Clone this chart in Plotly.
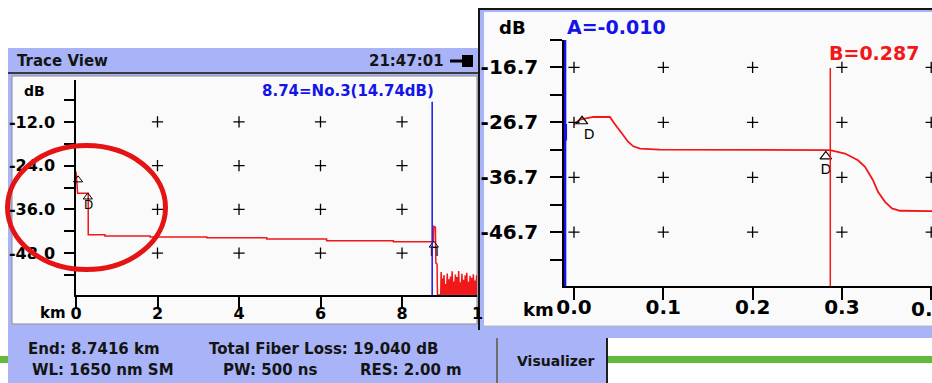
import plotly.graph_objects as go

W, H = 932, 383

# ---- Overview trace (Trace View), distance in km, level in dB ----
overview_km = [0.0, 0.01, 0.03, 0.04, 0.30, 0.30, 0.71, 0.71, 1.82, 1.82, 3.21, 3.21,
               4.68, 4.68, 6.15, 6.15, 7.79, 7.79, 8.77, 8.78, 8.82, 8.83, 8.86, 8.87, 8.93]
overview_db = [-25.6, -27.0, -30.5, -31.6, -31.6, -43.0, -43.0, -43.3, -43.3, -43.6, -43.6, -43.8,
               -43.8, -44.1, -44.1, -44.6, -44.6, -44.9, -44.9, -40.7, -40.9, -50.7, -51.0, -59.5, -59.5]

# noise floor after the fiber end
noise_km = [8.95, 8.96, 8.98, 8.99, 9.01, 9.03, 9.05, 9.07, 9.09, 9.11, 9.13, 9.15, 9.17, 9.19,
            9.21, 9.23, 9.25, 9.27, 9.29, 9.31, 9.33, 9.35, 9.37, 9.39, 9.41, 9.43, 9.45, 9.47,
            9.49, 9.51, 9.53, 9.55, 9.57, 9.59, 9.61, 9.63, 9.65, 9.67, 9.69, 9.71, 9.73, 9.75,
            9.77, 9.79, 9.81, 9.83, 9.84]
noise_db = [-59.5, -53.2, -59.5, -55.0, -59.5, -54.0, -59.5, -56.5, -59.5, -53.6, -59.5, -55.2,
            -59.5, -54.4, -59.5, -53.0, -59.5, -55.8, -59.5, -53.9, -59.5, -54.6, -59.5, -52.9,
            -59.5, -56.0, -59.5, -53.7, -59.5, -55.3, -59.5, -54.1, -59.5, -53.4, -59.5, -55.9,
            -59.5, -54.2, -59.5, -54.8, -59.5, -53.8, -59.5, -55.5, -59.5, -54.1, -59.5]

# ---- Zoomed trace (first 400 m) ----
zoom_km = [0.0, 0.0067, 0.0216, 0.0403, 0.044, 0.0496, 0.0552, 0.0608, 0.0664, 0.0739, 0.0963,
           0.2867, 0.3035, 0.318, 0.3259, 0.3348, 0.3404, 0.3483, 0.3561, 0.3651, 0.4009]
zoom_db = [-27.1, -26.2, -25.72, -25.72, -26.64, -27.84, -29.06, -30.27, -31.06, -31.47, -31.65,
           -31.75, -32.38, -33.6, -34.81, -37.23, -39.35, -41.17, -42.36, -42.8, -42.85]

# axis ticks
ov_xticks = [0, 2, 4, 6, 8]
ov_yticks = [-12.0, -24.0, -36.0, -48.0]
ov_yminor = [-6.0, -18.0, -30.0, -42.0, -54.0]
zm_xticks = [0.0, 0.1, 0.2, 0.3, 0.4]
zm_yticks = [-16.7, -26.7, -36.7, -46.7]
zm_yminor = [-11.7, -21.7, -31.7, -41.7, -51.7]

# events / cursors
ov_events_km = [0.05, 0.29, 8.78]
ov_events_db = [-27.9, -32.6, -45.8]
ov_event_glyph_km = [0.31, 8.79]
ov_event_glyph_db = [-35.1, -48.0]
ov_event_glyph = ["D", "Π"]
ov_launch = (-0.17, -44.7)
ov_cursor_km = 8.74

zm_events_km = [0.009, 0.282]
zm_events_db = [-26.5, -32.9]
zm_event_glyph_km = [0.017, 0.282]
zm_event_glyph_db = [-29.1, -35.4]
zm_launch = (-0.020, -31.65)
cursor_a = -0.010
cursor_b = 0.287

LAV = "#A9B4F8"
PANEL = "#FAFAFA"
RED = "#F01818"
BLUE = "#1414E8"
FONT = "DejaVu Sans"


def px(x):
    return x / W


def py(y):
    return 1 - y / H


def bold(size, color="black"):
    return dict(family=FONT, size=size, color=color, weight="bold")


fig = go.Figure()

# overview trace
fig.add_trace(go.Scatter(x=overview_km + noise_km, y=overview_db + noise_db, mode="lines",
                         line=dict(color=RED, width=1.5), xaxis="x", yaxis="y"))
# grid crosses
fig.add_trace(go.Scatter(x=[xv for xv in ov_xticks[1:] for _ in ov_yticks],
                         y=[yv for _ in ov_xticks[1:] for yv in ov_yticks],
                         mode="markers", xaxis="x", yaxis="y",
                         marker=dict(symbol="cross-thin", size=8,
                                     line=dict(color="black", width=1.3))))
# event markers
fig.add_trace(go.Scatter(x=ov_events_km, y=ov_events_db, mode="markers", xaxis="x", yaxis="y",
                         cliponaxis=False,
                         marker=dict(symbol="triangle-up-open", size=8, color="black",
                                     line=dict(color="black", width=1))))
fig.add_trace(go.Scatter(x=ov_event_glyph_km, y=ov_event_glyph_db, mode="text",
                         text=ov_event_glyph, xaxis="x", yaxis="y", cliponaxis=False,
                         textfont=dict(family=FONT, size=12, color="black")))
fig.add_trace(go.Scatter(x=[ov_launch[0]], y=[ov_launch[1]], mode="markers",
                         xaxis="x", yaxis="y", cliponaxis=False,
                         marker=dict(symbol="triangle-right-open", size=9,
                                     line=dict(color=RED, width=1.2))))

# zoom trace
fig.add_trace(go.Scatter(x=zoom_km, y=zoom_db, mode="lines",
                         line=dict(color=RED, width=1.8), xaxis="x2", yaxis="y2"))
fig.add_trace(go.Scatter(x=[xv for xv in zm_xticks for _ in zm_yticks],
                         y=[yv for _ in zm_xticks for yv in zm_yticks],
                         mode="markers", xaxis="x2", yaxis="y2", cliponaxis=False,
                         marker=dict(symbol="cross-thin", size=8,
                                     line=dict(color="black", width=1.3))))
fig.add_trace(go.Scatter(x=zm_events_km, y=zm_events_db, mode="markers", xaxis="x2", yaxis="y2",
                         cliponaxis=False,
                         marker=dict(symbol="triangle-up-open", size=10, color="black",
                                     line=dict(color="black", width=1.2))))
fig.add_trace(go.Scatter(x=zm_event_glyph_km, y=zm_event_glyph_db, mode="text",
                         text=["D", "D"], xaxis="x2", yaxis="y2", cliponaxis=False,
                         textfont=dict(family=FONT, size=14, color="black")))
fig.add_trace(go.Scatter(x=[zm_launch[0]], y=[zm_launch[1]], mode="markers",
                         xaxis="x2", yaxis="y2", cliponaxis=False,
                         marker=dict(symbol="triangle-right-open", size=10,
                                     line=dict(color=RED, width=1.2))))

shapes = []


def rect(x0, y0, x1, y1, fill, line_color=None, lw=0, layer="below"):
    shapes.append(dict(type="rect", xref="paper", yref="paper",
                       x0=px(x0), x1=px(x1), y0=py(y1), y1=py(y0),
                       fillcolor=fill, layer=layer,
                       line=dict(color=line_color or fill, width=lw)))


def seg(x0, y0, x1, y1, color, lw, layer="below"):
    shapes.append(dict(type="line", xref="paper", yref="paper",
                       x0=px(x0), x1=px(x1), y0=py(y0), y1=py(y1), layer=layer,
                       line=dict(color=color, width=lw)))


# green strip behind the status bar
rect(0, 356, W, 363, "#62BA3C")
# left window: title bar + frame
rect(8, 48, 478, 72, LAV)
seg(8, 73, 478, 73, "#3A3A3A", 2)
rect(8, 74, 478, 332, LAV)
rect(12, 76, 477, 324, PANEL, "#8C8C8C", 1)
# status bar
rect(8, 330, 608, H, LAV)
seg(497, 336, 497, H, "#6E6E6E", 2)
seg(607, 338, 607, H, "#1E1E1E", 2)
# plug icon
seg(450, 61, 463, 61, "black", 3)
rect(462, 55, 473, 67, "black")
# right window
rect(478, 8, W, 338, LAV)
rect(484, 12, W, 326, PANEL)
seg(484, 326, W, 326, "#B8B8B8", 1)
seg(478, 9, W, 9, "#151515", 2)
seg(479, 8, 479, 330, "#151515", 2)

# cursors
shapes.append(dict(type="line", xref="x", yref="y", x0=ov_cursor_km, x1=ov_cursor_km,
                   y0=-6.5, y1=-59.5, line=dict(color=BLUE, width=1.5)))
shapes.append(dict(type="line", xref="x2", yref="y2", x0=cursor_a, x1=cursor_a,
                   y0=-11.7, y1=-56.5, line=dict(color=BLUE, width=2.5)))
shapes.append(dict(type="line", xref="x2", yref="y2", x0=cursor_a, x1=cursor_a,
                   y0=-27.0, y1=-30.0, line=dict(color=BLUE, width=4)))
shapes.append(dict(type="line", xref="x2", yref="y2", x0=cursor_b, x1=cursor_b,
                   y0=-16.8, y1=-56.5, line=dict(color=RED, width=1.5)))

# highlight ring around the launch section
shapes.append(dict(type="circle", xref="paper", yref="paper",
                   x0=px(7.5), x1=px(165.5), y0=py(269.5), y1=py(145.5),
                   layer="above", line=dict(color="#E41414", width=5)))

annotations = []


def label(x, y, text, font, xanchor="left"):
    annotations.append(dict(x=px(x), y=py(y), xref="paper", yref="paper", text=text,
                            showarrow=False, font=font, xanchor=xanchor, yanchor="middle"))


label(15, 61, "Trace View", bold(15, "#141414"))
label(446, 61, "21:47:01", bold(15, "#141414"), "right")
label(22, 91, "dB", bold(14))
label(436, 91, f"{ov_cursor_km:.2f}=No.3(14.74dB)", bold(15, BLUE), "right")
label(68, 313, "km", bold(15), "right")
label(470, 313, "1", bold(16))
label(497, 27, "dB", bold(18))
label(565, 27, f"A={cursor_a:.3f}", bold(19, BLUE))
label(827, 53, f"B={cursor_b:.3f}", bold(19, RED))
label(556, 309, "km", bold(18), "right")
label(909, 309, "0.", bold(20))
label(26, 349, "End: 8.7416 km", bold(15, "#141414"))
label(207, 349, "Total Fiber Loss: 19.040 dB", bold(15, "#141414"))
label(30, 370, "WL: 1650 nm SM", bold(15, "#141414"))
label(221, 370, "PW: 500 ns", bold(15, "#141414"))
label(358, 370, "RES: 2.00 m", bold(15, "#141414"))
label(555, 361, "Visualizer", bold(14, "#141414"), "center")

axis_common = dict(showgrid=False, zeroline=False, showline=True, linecolor="black",
                   linewidth=1.5, tickcolor="black", tickwidth=1.5, automargin=False)

fig.update_layout(
    width=W, height=H, autosize=False,
    margin=dict(l=0, r=0, t=0, b=0, pad=0),
    paper_bgcolor="white", plot_bgcolor="rgba(0,0,0,0)",
    showlegend=False, hovermode=False,
    shapes=shapes, annotations=annotations,
    # x tick marks are drawn as minor ticks so the labels sit close to the axis
    xaxis=dict(domain=[px(76), px(477)], range=[0, 9.84], anchor="y", ticks="",
               tickvals=ov_xticks, ticktext=[str(v) for v in ov_xticks],
               tickfont=bold(16), ticklabelstandoff=3,
               minor=dict(tickvals=ov_xticks, ticks="outside", ticklen=11, tickwidth=1.5,
                          tickcolor="black"),
               **axis_common),
    yaxis=dict(domain=[py(295), py(80)], range=[-59.5, -0.5], anchor="x",
               ticks="outside", ticklen=10,
               tickvals=ov_yticks, ticktext=[f"{v:.1f}" for v in ov_yticks],
               tickfont=bold(16), ticklabelstandoff=6,
               minor=dict(tickvals=ov_yminor, ticks="outside", ticklen=10, tickwidth=1.5,
                          tickcolor="black"),
               **axis_common),
    xaxis2=dict(domain=[px(564), 1.0], range=[-0.0112, 0.4009], anchor="y2", ticks="",
                tickvals=zm_xticks[:-1], ticktext=[f"{v:.1f}" for v in zm_xticks[:-1]],
                tickfont=bold(20), ticklabelstandoff=2,
                minor=dict(tickvals=zm_xticks, ticks="outside", ticklen=12, tickwidth=1.5,
                           tickcolor="black"),
                **axis_common),
    yaxis2=dict(domain=[py(286), py(40)], range=[-56.5, -11.7], anchor="x2",
                ticks="outside", ticklen=12,
                tickvals=zm_yticks, ticktext=[f"{v:.1f}" for v in zm_yticks],
                tickfont=bold(20), ticklabelstandoff=8,
                minor=dict(tickvals=zm_yminor, ticks="outside", ticklen=12, tickwidth=1.5,
                           tickcolor="black"),
                **axis_common),
)

fig.write_html("out.html")
